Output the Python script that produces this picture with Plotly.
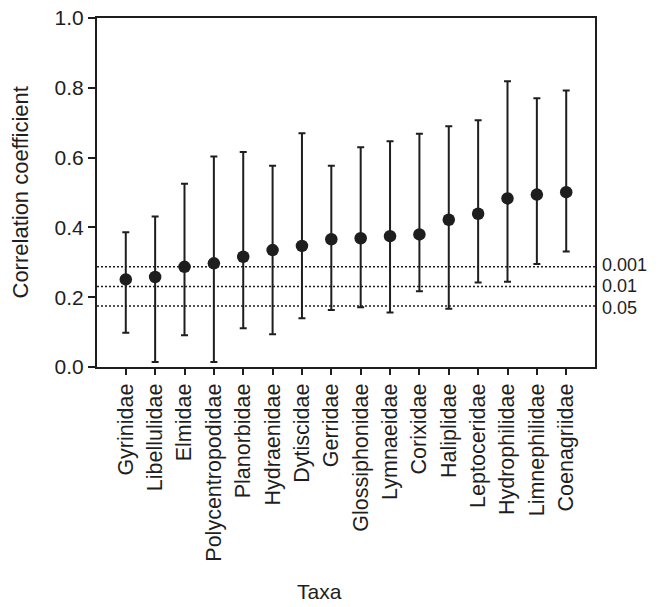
import plotly.graph_objects as go

taxa = ["Gyrinidae", "Libellulidae", "Elmidae", "Polycentropodidae", "Planorbidae",
        "Hydraenidae", "Dytiscidae", "Gerridae", "Glossiphonidae", "Lymnaeidae",
        "Corixidae", "Haliplidae", "Leptoceridae", "Hydrophilidae", "Limnephilidae",
        "Coenagriidae"]
mean_r = [0.251, 0.258, 0.287, 0.297, 0.316, 0.335, 0.347, 0.366, 0.369, 0.375,
          0.380, 0.422, 0.439, 0.483, 0.494, 0.501]
upper_r = [0.386, 0.431, 0.525, 0.603, 0.616, 0.577, 0.670, 0.577, 0.630, 0.647,
           0.668, 0.690, 0.707, 0.819, 0.770, 0.792]
lower_r = [0.098, 0.014, 0.091, 0.014, 0.111, 0.094, 0.140, 0.163, 0.171, 0.156,
           0.217, 0.167, 0.242, 0.244, 0.295, 0.331]
thresholds = [0.287, 0.231, 0.175]
threshold_labels = ["0.001", "0.01", "0.05"]
label_shift = [2, 0, -2]
y_ticks = [0.0, 0.2, 0.4, 0.6, 0.8, 1.0]

FONT = "Liberation Sans, Arial, Helvetica, sans-serif"
INK = "#1e1e1e"

err_plus = [u - m for u, m in zip(upper_r, mean_r)]
err_minus = [m - l for m, l in zip(mean_r, lower_r)]

fig = go.Figure()
fig.add_trace(go.Scatter(
    x=taxa, y=mean_r, mode="markers",
    marker=dict(size=12.5, color=INK),
    error_y=dict(type="data", symmetric=False, array=err_plus, arrayminus=err_minus,
                 color=INK, thickness=2, width=3.5),
    showlegend=False,
))

for t, lab, s in zip(thresholds, threshold_labels, label_shift):
    fig.add_shape(type="line", xref="paper", x0=0, x1=1, yref="y", y0=t, y1=t,
                  line=dict(color=INK, width=1.5, dash="2px,2px"), layer="below")
    fig.add_annotation(xref="paper", x=1, yref="y", y=t, text=lab, showarrow=False,
                       xanchor="left", xshift=6, yshift=s, borderpad=0,
                       font=dict(size=18, color=INK, family=FONT))

fig.add_annotation(xref="paper", x=0, xshift=-77, yref="paper", y=0.5,
                   text="Correlation coefficient", textangle=-90, showarrow=False,
                   xanchor="center", yanchor="middle",
                   font=dict(size=22, color=INK, family=FONT))
fig.add_annotation(xref="paper", x=0.447, yref="paper", y=0, yshift=-224,
                   text="Taxa", showarrow=False, xanchor="center", yanchor="middle",
                   font=dict(size=21, color=INK, family=FONT))

fig.update_layout(
    width=659, height=607,
    margin=dict(l=97, r=64, t=18, b=240, autoexpand=False),
    paper_bgcolor="white", plot_bgcolor="white",
    font=dict(family=FONT, color=INK, size=20),
)
fig.update_xaxes(
    range=[-0.98, 15.98], showgrid=False, zeroline=False,
    showline=True, linecolor=INK, linewidth=2, mirror=True,
    ticks="outside", ticklen=6, tickwidth=1.5, tickcolor=INK,
    tickangle=-90, tickfont=dict(size=21.5, color=INK, family=FONT),
)
fig.update_yaxes(
    range=[0, 1.0], showgrid=False, zeroline=False,
    showline=True, linecolor=INK, linewidth=2, mirror=True,
    ticks="outside", ticklen=7, tickwidth=1.5, tickcolor=INK,
    tickvals=y_ticks, ticktext=[f"{v:.1f}" for v in y_ticks],
    tickfont=dict(size=21, color=INK, family=FONT),
)

fig.write_html("out.html", config={"displayModeBar": False},
               post_script="document.body.style.margin='0';")
